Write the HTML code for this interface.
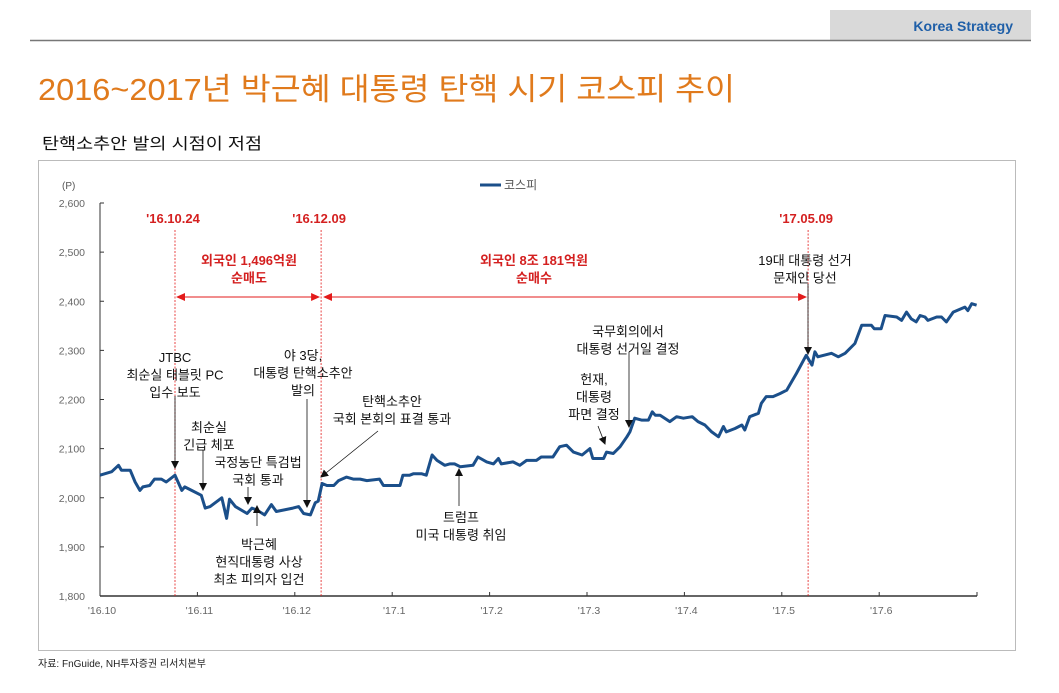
<!DOCTYPE html>
<html><head><meta charset="utf-8">
<style>
body{margin:0;width:1059px;height:688px;background:#fff;overflow:hidden;font-family:"Liberation Sans","Noto Sans CJK KR",sans-serif;}
svg text{font-family:"Liberation Sans","Noto Sans CJK KR",sans-serif;}
</style></head>
<body>
<svg width="1059" height="688" viewBox="0 0 1059 688">
<rect x="830" y="10" width="201" height="30" fill="#d9d9d9"/>
<text x="1013" y="31" text-anchor="end" font-size="14" font-weight="bold" fill="#1f5fa8">Korea Strategy</text>
<line x1="30" y1="40.5" x2="1031" y2="40.5" stroke="#777" stroke-width="1.5"/>
<text x="38" y="100" font-size="31" fill="#e07a1c" textLength="697" lengthAdjust="spacingAndGlyphs">2016~2017년 박근혜 대통령 탄핵 시기 코스피 추이</text>
<text x="42" y="149" font-size="16" fill="#111" textLength="220" lengthAdjust="spacingAndGlyphs">탄핵소추안 발의 시점이 저점</text>
<rect x="38.5" y="160.5" width="977" height="490" fill="#fff" stroke="#bbb"/>
<text x="38" y="667" font-size="10" fill="#222">자료: FnGuide, NH투자증권 리서치본부</text>
<g id="chart"></g>
</svg>
<script>
const yTicks=[1800,1900,2000,2100,2200,2300,2400,2500,2600];
const xTickLabels=["'16.10","'16.11","'16.12","'17.1","'17.2","'17.3","'17.4","'17.5","'17.6"];
const months=[0,.12,.19,.22,.31,.36,.41,.44,.51,.56,.63,.68,.77,.84,.87,.94,1.04,1.08,1.13,1.25,1.30,1.33,1.39,1.51,1.56,1.61,1.69,1.76,1.81,1.98,2.04,2.09,2.16,2.21,2.24,2.28,2.33,2.40,2.45,2.53,2.60,2.67,2.74,2.87,2.91,3.08,3.11,3.18,3.22,3.30,3.35,3.41,3.46,3.54,3.59,3.64,3.70,3.83,3.88,3.97,4.04,4.09,4.12,4.24,4.31,4.38,4.48,4.53,4.65,4.72,4.79,4.86,4.95,5.03,5.06,5.17,5.20,5.27,5.34,5.41,5.44,5.49,5.56,5.63,5.67,5.70,5.75,5.85,5.92,5.99,6.08,6.14,6.21,6.28,6.35,6.40,6.43,6.52,6.59,6.62,6.67,6.76,6.79,6.84,6.91,6.98,7.05,7.15,7.25,7.31,7.34,7.37,7.51,7.58,7.65,7.75,7.82,7.92,7.95,8.02,8.06,8.18,8.23,8.28,8.33,8.38,8.42,8.47,8.50,8.59,8.64,8.69,8.76,8.88,8.91,8.95,9.0];
const kospi=[2046,2053,2066,2056,2056,2032,2015,2022,2025,2038,2038,2032,2046,2015,2022,2015,2005,1979,1982,2000,1958,1997,1982,1968,1979,1975,1965,1986,1972,1979,1982,1968,1965,1990,1993,2029,2025,2025,2035,2042,2038,2038,2035,2038,2025,2025,2046,2046,2049,2049,2046,2087,2076,2066,2069,2069,2063,2066,2083,2073,2069,2080,2069,2073,2066,2076,2076,2083,2083,2104,2107,2093,2087,2100,2080,2080,2093,2090,2104,2124,2134,2162,2158,2158,2175,2168,2168,2155,2165,2162,2165,2155,2148,2134,2124,2145,2134,2141,2148,2138,2165,2172,2192,2206,2206,2212,2219,2253,2290,2270,2297,2287,2294,2287,2294,2314,2351,2351,2344,2344,2371,2368,2361,2378,2364,2358,2371,2368,2361,2368,2368,2358,2378,2388,2381,2395,2392];
const eventMonths=[0.77,2.27,7.27];
const eventLabels=["'16.10.24","'16.12.09","'17.05.09"];

const NS="http://www.w3.org/2000/svg";
const g=document.getElementById('chart');
const X0=100,X1=977,Y0=596,Y1=203;
const xs=m=>X0+m*97.4;
const ys=v=>Y0-(v-1800)/(800)*(Y0-Y1);
function mk(tag,attrs,txt){const e=document.createElementNS(NS,tag);for(const k in attrs)e.setAttribute(k,attrs[k]);if(txt!==undefined)e.textContent=txt;g.appendChild(e);return e;}

const defs=mk('defs',{});
defs.innerHTML='<marker id="ab" markerWidth="8" markerHeight="8" refX="7" refY="4" orient="auto" markerUnits="userSpaceOnUse"><path d="M0,0 L8,4 L0,8 z" fill="#111"/></marker><marker id="ar" markerWidth="9" markerHeight="8" refX="8" refY="4" orient="auto" markerUnits="userSpaceOnUse"><path d="M0,0 L9,4 L0,8 z" fill="#e31b1b"/></marker><marker id="ars" markerWidth="9" markerHeight="8" refX="1" refY="4" orient="auto" markerUnits="userSpaceOnUse"><path d="M9,0 L0,4 L9,8 z" fill="#e31b1b"/></marker>';

let e=mk('line',{x1:X0,y1:Y1,x2:X0,y2:Y0,stroke:'#333','stroke-width':1});


e=mk('line',{x1:X0,y1:Y0,x2:X1,y2:Y0,stroke:'#333','stroke-width':1.5});


e=mk('text',{x:62,y:189,'font-size':10,fill:'#555'},'(P)');


yTicks.forEach(v=>{
  const y=ys(v);
  mk('line',{x1:X0,y1:y,x2:X0+4,y2:y,stroke:'#333'});
  const t=mk('text',{x:85,y:y+4,'font-size':10.5,fill:'#666','text-anchor':'end'},v.toLocaleString('en-US'));
  
  
});
xTickLabels.forEach((l,i)=>{
  const x=xs(i);
  mk('line',{x1:x,y1:Y0,x2:x,y2:Y0-4,stroke:'#333'});
  const t=mk('text',{x:x+2,y:614,'font-size':10.5,fill:'#666','text-anchor':'middle'},l);
  
  
});
mk('line',{x1:X1,y1:Y0,x2:X1,y2:Y0-4,stroke:'#333'});

e=mk('line',{x1:480,y1:185,x2:501,y2:185,stroke:'#1b4f8a','stroke-width':3});


e=mk('text',{x:504,y:189,'font-size':12,fill:'#555'},'코스피');



eventMonths.forEach((m,i)=>{
  const x=xs(m);
  const l=mk('line',{x1:x,y1:230,x2:x,y2:Y0,stroke:'#e31b1b','stroke-width':0.8,'stroke-dasharray':'2,1.5'});
  
  
  const t=mk('text',{x:x-2,y:223,'font-size':13,'font-weight':'bold',fill:'#d42020','text-anchor':'middle'},eventLabels[i]);
  
  
});
e=mk('line',{x1:xs(eventMonths[0])+2,y1:297,x2:xs(eventMonths[1])-2,y2:297,stroke:'#e31b1b','stroke-width':1,'marker-end':'url(#ar)','marker-start':'url(#ars)'});


e=mk('line',{x1:xs(eventMonths[1])+3,y1:297,x2:xs(eventMonths[2])-2,y2:297,stroke:'#e31b1b','stroke-width':1,'marker-end':'url(#ar)','marker-start':'url(#ars)'});



function label(lines,cx,y0,color,bold,name){
  lines.forEach((s,i)=>{
    const t=mk('text',{x:cx,y:y0+i*17.5,'font-size':13,'font-weight':bold?'bold':'normal',fill:color,'text-anchor':'middle'},s);
    
    
  });
}
label(['외국인 1,496억원','순매도'],249,265,'#d42020',true,'sell-flow-label');
label(['외국인 8조 181억원','순매수'],534,265,'#d42020',true,'buy-flow-label');

const d=months.map((m,i)=>(i?'L':'M')+xs(m).toFixed(1)+','+ys(kospi[i]).toFixed(1)).join(' ');
e=mk('path',{d:d,fill:'none',stroke:'#1b4f8a','stroke-width':3,'stroke-linejoin':'round'});



function arrow(x1,y1,x2,y2){const a=mk('line',{x1,y1,x2,y2,stroke:'#111','stroke-width':0.8,'marker-end':'url(#ab)'});

}
label(['JTBC','최순실 태블릿 PC','입수 보도'],175,362,'#111',false,'annotation-jtbc');
arrow(175,396,175,468);
label(['최순실','긴급 체포'],209,432,'#111',false,'annotation-arrest');
arrow(203,450,203,490);
label(['국정농단 특검법','국회 통과'],258,467,'#111',false,'annotation-special-law');
arrow(248,487,248,504);
label(['박근혜','현직대통령 사상','최초 피의자 입건'],259,549,'#111',false,'annotation-suspect');
arrow(257,526,257,506);
label(['야 3당,','대통령 탄핵소추안','발의'],303,360,'#111',false,'annotation-impeach-motion');
arrow(307,399,307,507);
label(['탄핵소추안','국회 본회의 표결 통과'],392,406,'#111',false,'annotation-impeach-pass');
arrow(378,431,321,477);
label(['트럼프','미국 대통령 취임'],461,522,'#111',false,'annotation-trump');
arrow(459,506,459,469);
label(['국무회의에서','대통령 선거일 결정'],628,336,'#111',false,'annotation-election-date');
arrow(629,352,629,427);
label(['헌재,','대통령','파면 결정'],594,384,'#111',false,'annotation-removal');
arrow(598,426,605,444);
label(['19대 대통령 선거','문재인 당선'],805,265,'#111',false,'annotation-election');
arrow(808,284,808,354);
</script>
</body></html>
